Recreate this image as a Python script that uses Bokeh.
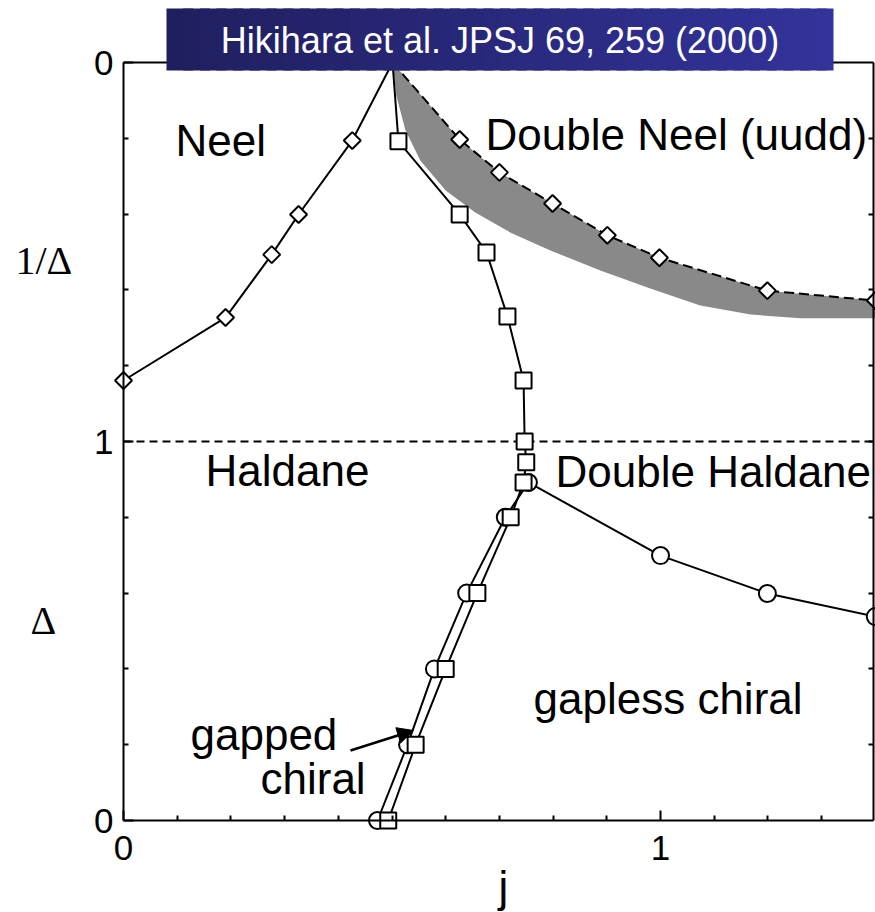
import numpy as np
from bokeh.plotting import figure
from bokeh.models import (Range1d, FixedTicker, LinearAxis, Label,
                          BoxAnnotation, Arrow, NormalHead)
from bokeh.embed import file_html
from bokeh.resources import INLINE

# ---------------- data ----------------
# upper half: values are 1/Delta ; lower half: values are Delta
neel_j = [0.0, 0.190, 0.276, 0.326, 0.426, 0.501]
neel_inv = [0.839, 0.673, 0.507, 0.401, 0.206, 0.0]

dneel_j = [0.501, 0.626, 0.700, 0.799, 0.901, 0.998, 1.199, 1.400]
dneel_inv = [0.0, 0.203, 0.290, 0.372, 0.456, 0.515, 0.602, 0.628]

band_low_j = [0.501, 0.508, 0.525, 0.553, 0.600, 0.655, 0.721, 0.795,
              0.888, 0.981, 1.074, 1.168, 1.261, 1.400]
band_low_inv = [0.0, 0.087, 0.179, 0.259, 0.338, 0.396, 0.449, 0.496,
                0.549, 0.596, 0.641, 0.665, 0.675, 0.675]

sq_up_j = [0.501, 0.512, 0.626, 0.676, 0.715, 0.745]
sq_up_inv = [0.0, 0.208, 0.401, 0.501, 0.670, 0.839]
sq_low_j = [0.747, 0.750, 0.745, 0.721, 0.659, 0.600, 0.544, 0.493]
sq_low_delta = [1.0, 0.945, 0.892, 0.800, 0.600, 0.400, 0.200, 0.0]

circ_j = [0.473, 0.529, 0.579, 0.639, 0.711, 0.754, 1.000, 1.199, 1.400]
circ_delta = [0.0, 0.200, 0.400, 0.600, 0.800, 0.892, 0.699, 0.599, 0.538]

x_major_ticks = [0, 1]
x_minor_ticks = [0.1, 0.2, 0.3, 0.4, 0.5, 0.6, 0.7, 0.8, 0.9, 1.1, 1.2, 1.3]
x_all_ticks = [0.1, 0.2, 0.3, 0.4, 0.5, 0.6, 0.7, 0.8, 0.9, 1.0, 1.1, 1.2, 1.3]
y_major_ticks = [0, 1, 2]
y_tick_labels = {0: "0", 1: "1", 2: "0"}
y_minor_ticks = [0.2, 0.4, 0.6, 0.8, 1.2, 1.4, 1.6, 1.8]
y_all_ticks = [0.2, 0.4, 0.6, 0.8, 1.0, 1.2, 1.4, 1.6, 1.8]

title_text = "Hikihara et al. JPSJ 69, 259 (2000)"


def up(inv):
    # map 1/Delta (0..1) onto the upper half of the axis (2..1)
    return [2.0 - v for v in inv]


# pixel -> data mapping of the reference layout
def px(xp, yp):
    return (xp - 123) / 537.0, (820 - yp) / 379.0


W, H = 875, 912
x0, y0 = px(0, H)
x1, y1 = px(W, 0)
XR = px(873, 0)[0]          # right edge of the plotting box

p = figure(width=W, height=H, x_range=Range1d(x0, x1), y_range=Range1d(y0, y1),
           output_backend="svg", toolbar_location=None,
           min_border_left=0, min_border_right=0, min_border_top=0,
           min_border_bottom=0)
p.grid.visible = False
p.outline_line_color = None
p.background_fill_color = "white"
p.border_fill_color = "white"

SANS = "Liberation Sans"
SERIF = "Liberation Serif"


def style_axis(ax):
    ax.axis_line_width = 2
    ax.axis_line_color = "black"
    ax.major_tick_in = 10
    ax.major_tick_out = 0
    ax.minor_tick_in = 5
    ax.minor_tick_out = 0
    ax.major_tick_line_width = 2
    ax.minor_tick_line_width = 2
    ax.major_tick_line_color = "black"
    ax.minor_tick_line_color = "black"
    ax.major_label_text_font = SANS
    ax.major_label_text_font_size = "35px"
    ax.major_label_text_color = "black"


xt = FixedTicker(ticks=x_major_ticks, minor_ticks=x_minor_ticks)
yt = FixedTicker(ticks=y_major_ticks, minor_ticks=y_minor_ticks)

xa = p.xaxis[0]
xa.ticker = xt
xa.fixed_location = 0
xa.bounds = (0, XR)
style_axis(xa)
xa.major_label_standoff = 15

ya = p.yaxis[0]
ya.ticker = yt
ya.fixed_location = 0
ya.bounds = (0, 2)
style_axis(ya)
ya.major_label_overrides = y_tick_labels
ya.major_label_standoff = 10

# mirror axes (right / top): ticks only, no labels
ra = LinearAxis(ticker=FixedTicker(ticks=[], minor_ticks=y_all_ticks),
                fixed_location=XR, bounds=(0, 2))
style_axis(ra)
p.add_layout(ra, "right")
ta = LinearAxis(ticker=FixedTicker(ticks=[], minor_ticks=x_all_ticks),
                fixed_location=2, bounds=(0, XR))
style_axis(ta)
p.add_layout(ta, "above")

# ---------------- glyphs ----------------
band_x = dneel_j + band_low_j[::-1]
band_y = up(dneel_inv) + up(band_low_inv)[::-1]
p.patch(band_x, band_y, fill_color="#898989", line_color=None)

LW = 2
# dashed line Delta = 1 across the plotting box
p.line([0, XR], [1, 1], line_color="black", line_width=2, line_dash="8 5")

p.line(neel_j, up(neel_inv), line_color="black", line_width=LW)
p.line(dneel_j, up(dneel_inv), line_color="black", line_width=LW, line_dash="10 5")
p.line(sq_up_j + sq_low_j, up(sq_up_inv) + sq_low_delta, line_color="black", line_width=LW)
p.line(circ_j, circ_delta, line_color="black", line_width=LW)

mk = dict(fill_color="white", line_color="black", line_width=2)
p.scatter(neel_j[:-1], up(neel_inv)[:-1], marker="square", angle=np.pi / 4, size=12, **mk)
p.scatter(dneel_j[1:], up(dneel_inv)[1:], marker="square", angle=np.pi / 4, size=12, **mk)
p.scatter(circ_j, circ_delta, marker="circle", size=17, **mk)
p.scatter(sq_up_j[1:] + sq_low_j, up(sq_up_inv)[1:] + sq_low_delta, marker="square", size=16, **mk)


# ---------------- annotations ----------------
def lab(text, xp, yp, size="44px", font=SANS, align="left", color="black", level="annotation"):
    x, y = px(xp, yp)
    p.add_layout(Label(x=x, y=y, text=text, text_font=font, text_font_size=size,
                       text_align=align, text_baseline="middle", text_color=color,
                       level=level))


# y values are the visual centres of the texts
lab("Neel", 175, 140)
lab("Double Neel (uudd)", 485, 134)
lab("Haldane", 205, 470)
lab("Double Haldane", 555, 471)
lab("gapless chiral", 533, 698)
lab("gapped", 190, 734)
lab("chiral", 260, 778)
lab("1/\u0394", 15, 260, size="40px", font=SERIF)
lab("\u0394", 30, 620, size="40px", font=SERIF)
lab("j", 498, 886)

ax0, ay0 = px(350, 750)
ax1, ay1 = px(413, 730)
p.add_layout(Arrow(end=NormalHead(size=16, fill_color="black", line_color="black"),
                   x_start=ax0, y_start=ay0, x_end=ax1, y_end=ay1,
                   line_width=2.5, line_color="black"))

# title box with gradient
bx0, by0 = px(166, 70)
bx1, by1 = px(833, 8)
c0 = np.array([0x1f, 0x1f, 0x5f])
c1 = np.array([0x33, 0x33, 0x9b])
n = 40
for i in range(n):
    t = i / (n - 1)
    c = (c0 + (c1 - c0) * t).round().astype(int)
    col = "#%02x%02x%02x" % tuple(c)
    l = bx0 + (bx1 - bx0) * i / n
    r = bx0 + (bx1 - bx0) * (i + 1.6) / n if i < n - 1 else bx1
    p.add_layout(BoxAnnotation(left=l, right=r, bottom=by0, top=by1,
                               fill_color=col, fill_alpha=1.0,
                               line_color=None, line_alpha=0, level="overlay"))
lab(title_text, 499.5, 40, size="36px", align="center", color="white", level="overlay")

open("out.html", "w").write(file_html(p, INLINE))
